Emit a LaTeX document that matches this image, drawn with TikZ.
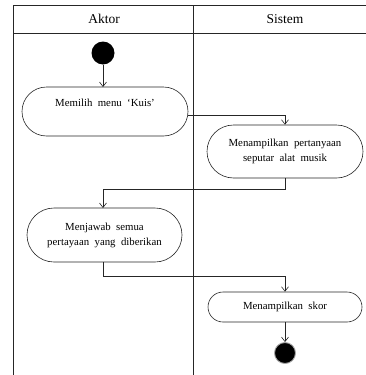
\documentclass[tikz,border=0pt]{standalone}
\usepackage{fontspec}
\setmainfont{Liberation Serif}
\usetikzlibrary{arrows.meta,shapes.misc}
\newcommand\myactfont{\fontsize{10.8}{15}\selectfont\spaceskip=0.5em\relax}
\begin{document}
\begin{tikzpicture}[x=1pt,y=-1pt,
  lane/.style={draw=black!85,line width=0.6pt},
  act/.style={draw=black!85,line width=0.6pt,rounded rectangle,inner sep=0pt,align=center,
    font=\myactfont},
  flow/.style={draw=black!85,line width=0.6pt,-{Straight Barb[length=4.5pt,width=7pt]}},
  hdr/.style={font=\fontsize{13.5}{15}\selectfont}]
\useasboundingbox (0,0) rectangle (365,375);
% swimlanes
\draw[lane] (13,376) -- (13,5) -- (367,5);
\draw[lane] (13,33) -- (367,33);
\draw[lane] (193,5) -- (193,376);
\node[hdr] (aktor) at (104,19) {Aktor};
\node[hdr] (sistem) at (285,19) {Sistem};
% nodes
\node[circle,fill=black,minimum size=23pt,inner sep=0pt] (start) at (103,53) {};
\node[act,minimum width=166pt,minimum height=49pt] (b1) at (105,111.5) {\raisebox{-3pt}{Memilih menu `Kuis'}\\ \strut};
\node[act,minimum width=156pt,minimum height=53pt] (b2) at (285,151.5) {Menampilkan pertanyaan\\seputar alat musik};
\node[act,minimum width=155pt,minimum height=54pt] (b3) at (104.5,235) {Menjawab semua\\pertayaan yang diberikan};
\node[act,minimum width=154pt,minimum height=30pt] (b4) at (285,307) {Menampilkan skor};
\node[circle,fill=black,draw=black!35,line width=0.9pt,minimum size=21pt,inner sep=0pt] (end) at (285,353) {};
% connectors
\coordinate (e1) at (103,87);
\coordinate (j1) at (285,115);
\coordinate (j2) at (285,189);
\coordinate (j3) at (103,189);
\coordinate (e3) at (103,208);
\coordinate (j4) at (103,276);
\coordinate (j5) at (285,276);
\draw[flow] (start) -- (e1);
\draw[flow] (b1.east |- j1) -- (j1) -- (b2.north);
\draw[flow] (b2.south) -- (j2) -- (j3) -- (e3);
\draw[flow] (b3.south -| j4) -- (j4) -- (j5) -- (b4.north);
\draw[flow] (b4.south) -- (end.north);
\end{tikzpicture}
\end{document}
